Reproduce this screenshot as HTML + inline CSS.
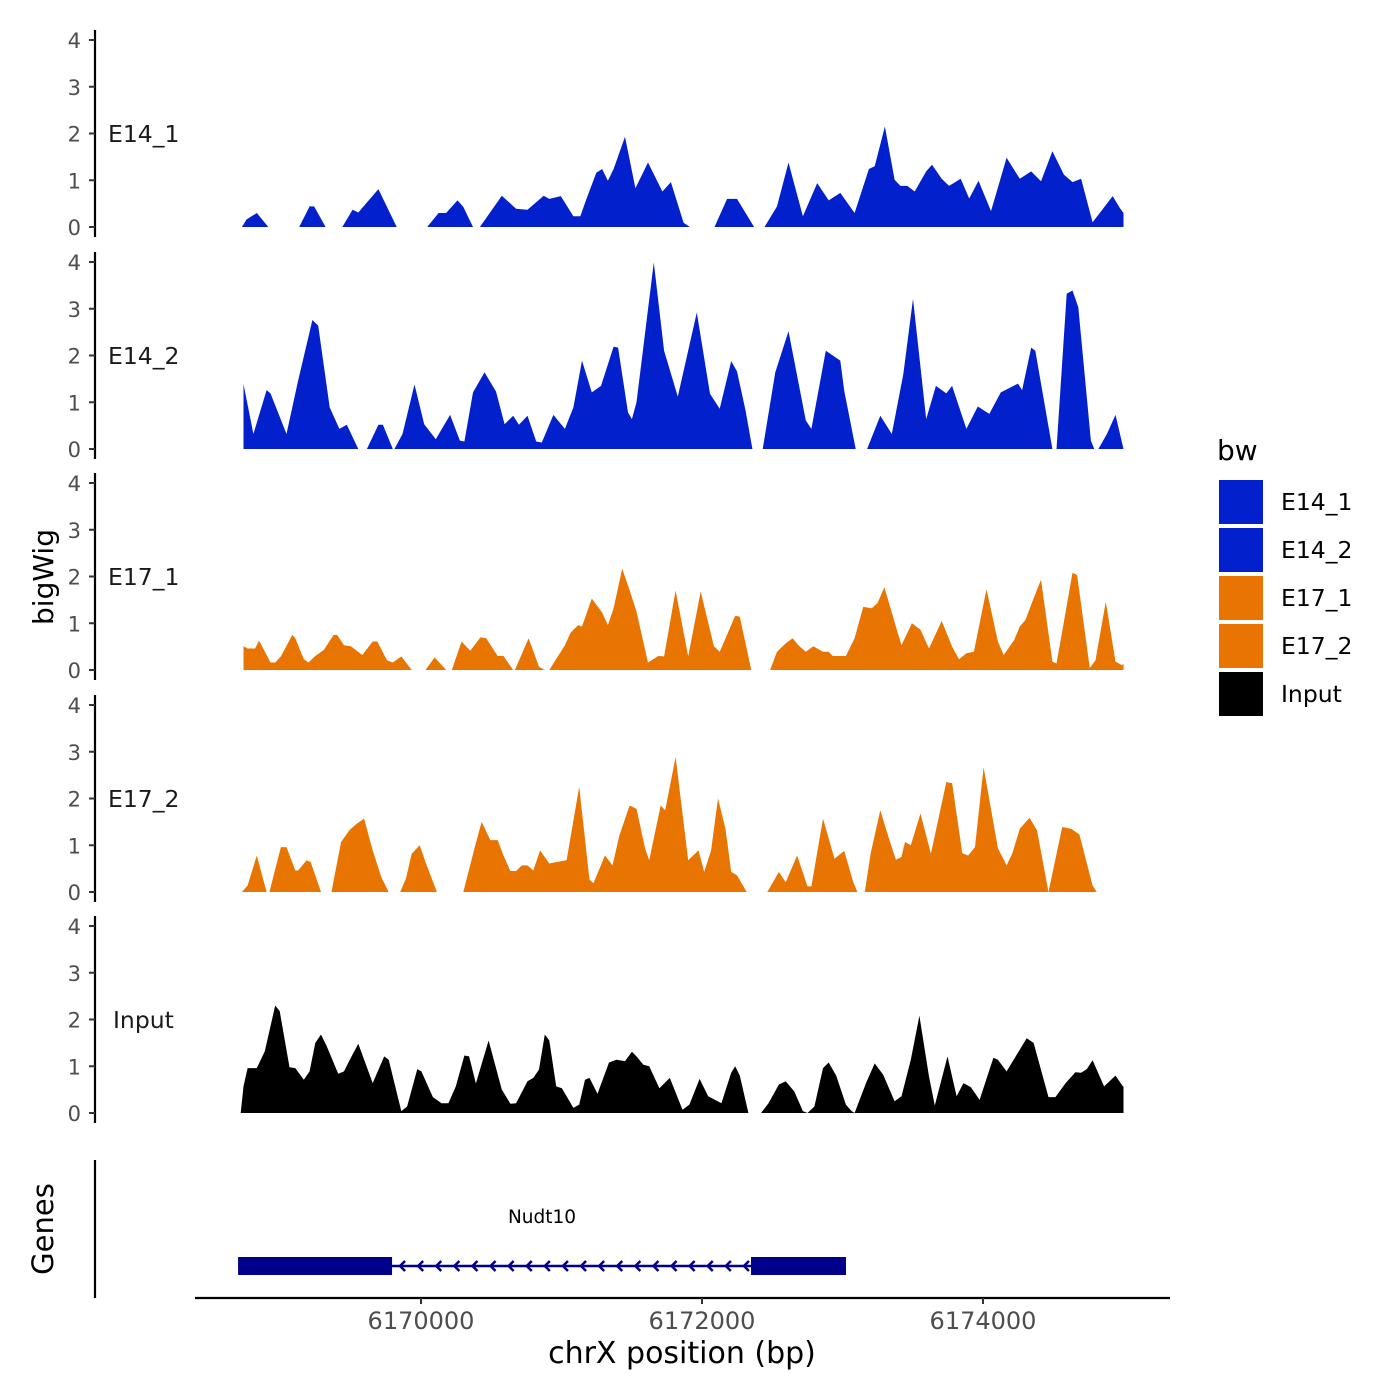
<!DOCTYPE html>
<html><head><meta charset="utf-8"><style>
html,body{margin:0;padding:0;background:#fff;}
svg{display:block;font-family:"DejaVu Sans","Liberation Sans",sans-serif;}
</style></head><body>
<svg id="chart" width="1400" height="1400" viewBox="0 0 1400 1400"></svg>
<script>
const trackNames = ["E14_1","E14_2","E17_1","E17_2","Input"];
const trackColors = ["#0320cd","#0320cd","#e87502","#e87502","#000000"];
const yTicks = [0,1,2,3,4];
const xTicks = [6170000,6172000,6174000];

const e14_1_pos = [6168725,6168758,6168831,6168913,null,6169133,6169207,6169239,6169321,null,6169440,6169513,6169554,6169697,6169827,null,6170044,6170125,6170179,6170260,6170301,6170370,null,6170419,6170575,6170677,6170758,6170873,6170913,6170995,6171085,6171134,6171175,6171248,6171289,6171330,6171371,6171452,6171526,6171616,6171718,6171779,6171869,6171914,null,6172089,6172179,6172249,6172371,null,6172445,6172534,6172616,6172718,6172820,6172902,6172984,6173086,6173188,6173229,6173302,6173371,6173412,6173461,6173514,6173596,6173637,6173706,6173759,6173841,6173902,6173968,6174057,6174168,6174262,6174343,6174413,6174494,6174576,6174637,6174698,6174780,6174923,6174975,6175000];
const e14_1_val = [0,0.16,0.30,0,null,0,0.44,0.44,0,null,0,0.37,0.31,0.81,0,null,0,0.30,0.30,0.57,0.43,0,null,0,0.67,0.39,0.37,0.67,0.60,0.66,0.23,0.23,0.58,1.16,1.24,0.99,1.24,1.93,0.83,1.38,0.76,0.96,0.09,0,null,0,0.60,0.60,0,null,0,0.44,1.38,0.23,0.94,0.57,0.73,0.30,1.24,1.30,2.15,1.01,0.88,0.88,0.76,1.19,1.33,1.03,0.88,1.03,0.61,0.99,0.34,1.48,1.03,1.19,0.98,1.62,1.12,0.96,1.03,0.10,0.66,0.40,0.30];

const e14_2_pos = [6168737,6168807,6168901,6168929,6169043,6169125,6169227,6169268,6169350,6169419,6169472,6169554,null,6169615,6169697,6169729,6169799,null,6169811,6169868,6169954,6170023,6170105,6170207,6170277,6170309,6170370,6170452,6170534,6170595,6170656,6170697,6170758,6170820,6170860,6170942,6171024,6171085,6171146,6171216,6171281,6171371,6171403,6171473,6171501,6171534,6171657,6171730,6171828,6171963,6172057,6172126,6172208,6172249,6172310,6172359,null,6172432,6172522,6172616,6172739,6172779,6172881,6172984,6173012,6173094,null,6173175,6173269,6173351,6173433,6173502,6173596,6173665,6173739,6173780,6173882,6173963,6174045,6174127,6174249,6174278,6174343,6174372,6174494,null,6174523,6174596,6174637,6174678,6174768,6174792,null,6174821,6174882,6174943,6175000];
const e14_2_val = [1.39,0.32,1.26,1.19,0.32,1.46,2.76,2.64,0.89,0.43,0.52,0,null,0,0.52,0.52,0,null,0,0.32,1.38,0.53,0.21,0.73,0.18,0.16,1.21,1.64,1.23,0.53,0.71,0.52,0.71,0.16,0.14,0.73,0.43,0.89,1.89,1.21,1.35,2.19,2.17,0.78,0.64,1.00,3.99,2.10,1.12,2.92,1.18,0.86,1.88,1.66,0.82,0,null,0,1.64,2.52,0.61,0.43,2.10,1.89,1.25,0,null,0,0.71,0.32,1.60,3.21,0.64,1.35,1.19,1.35,0.43,0.91,0.75,1.21,1.40,1.26,2.17,2.10,0,null,0,3.32,3.39,3.03,0.18,0,null,0,0.32,0.73,0];

const e17_1_pos = [6168737,6168766,6168819,6168847,6168929,6168962,6169003,6169084,6169105,6169166,6169199,6169248,6169309,6169378,6169403,6169452,6169501,6169582,6169656,6169689,6169758,6169799,6169860,6169934,null,6170032,6170097,6170179,null,6170219,6170289,6170350,6170424,6170464,6170546,6170587,6170656,null,6170668,6170766,6170840,6170881,null,6170913,6171024,6171065,6171118,6171146,6171216,6171289,6171330,6171371,6171432,6171485,6171534,6171616,6171689,6171730,6171812,6171902,6171991,6172085,6172126,6172236,6172269,6172351,null,6172485,6172534,6172596,6172645,6172686,6172739,6172792,6172861,6172902,6172930,6173024,6173086,6173147,6173208,6173249,6173298,6173380,6173420,6173494,6173555,6173616,6173706,6173780,6173829,6173882,6173935,6174025,6174106,6174147,6174221,6174262,6174302,6174351,6174413,6174494,6174523,6174576,6174637,6174670,6174760,6174801,6174874,6174943,6174990,6175000];
const e17_1_val = [0.51,0.46,0.46,0.63,0.16,0.16,0.29,0.75,0.68,0.23,0.16,0.30,0.43,0.75,0.75,0.53,0.51,0.32,0.61,0.61,0.21,0.16,0.29,0,null,0,0.27,0,null,0,0.61,0.41,0.70,0.68,0.30,0.30,0,null,0,0.68,0.07,0,null,0,0.53,0.80,0.96,0.93,1.53,1.23,0.96,1.32,2.17,1.71,1.25,0.16,0.30,0.29,1.70,0.29,1.68,0.51,0.39,1.16,1.14,0,null,0,0.39,0.57,0.68,0.53,0.39,0.51,0.39,0.39,0.30,0.30,0.68,1.35,1.32,1.43,1.77,0.93,0.53,1.00,0.86,0.46,1.05,0.50,0.23,0.36,0.39,1.73,0.61,0.32,0.64,0.93,1.07,1.46,1.93,0.18,0.14,1.03,2.08,2.03,0.04,0.21,1.46,0.18,0.10,0.14];

const e17_2_pos = [6168725,6168766,6168831,6168901,null,6168921,6169003,6169043,6169105,6169125,6169186,6169215,6169288,null,6169362,6169431,6169493,6169542,6169595,6169656,6169717,6169770,null,6169852,6169893,6169934,6169991,6170032,6170113,null,6170301,6170383,6170432,6170493,6170546,6170587,6170636,6170677,6170718,6170758,6170799,6170848,6170913,6170962,6171036,6171126,6171199,6171228,6171309,6171363,6171412,6171485,6171534,6171595,6171624,6171706,6171738,6171812,6171902,6171975,6172016,6172065,6172114,6172167,6172208,6172249,6172318,null,6172465,6172547,6172596,6172677,6172751,6172779,6172861,6172943,6173012,6173077,6173106,null,6173159,6173200,6173269,6173331,6173380,6173420,6173445,6173486,6173555,6173629,6173739,6173780,6173853,6173894,6173943,6174004,6174106,6174168,6174208,6174262,6174331,6174384,6174466,6174564,6174629,6174686,6174780,6174809];
const e17_2_val = [0,0.14,0.78,0,null,0,0.96,0.96,0.46,0.46,0.68,0.64,0,null,0,1.07,1.33,1.46,1.57,0.89,0.32,0,null,0,0.29,0.82,1.00,0.64,0,null,0,0.96,1.50,1.11,1.11,0.78,0.45,0.45,0.57,0.57,0.46,0.89,0.61,0.64,0.68,2.25,0.26,0.19,0.78,0.57,1.21,1.85,1.78,0.93,0.68,1.85,1.75,2.89,0.68,0.89,0.43,0.89,2.00,1.35,0.43,0.36,0,null,0,0.43,0.21,0.78,0.12,0.12,1.57,0.71,0.88,0.21,0,null,0,0.82,1.75,1.14,0.69,0.75,1.07,1.00,1.68,0.82,2.35,2.33,0.83,0.78,0.96,2.67,0.94,0.57,0.82,1.35,1.59,1.32,0,1.39,1.35,1.23,0.14,0];

const input_pos = [6168717,6168737,6168766,6168831,6168888,6168962,6168994,6169064,6169105,6169166,6169207,6169248,6169288,6169329,6169411,6169452,6169493,6169554,6169656,6169738,6169770,6169860,6169901,6169974,6170003,6170085,6170146,6170195,6170248,6170309,6170342,6170391,6170481,6170575,6170636,6170677,6170758,6170799,6170840,6170881,6170913,6170962,6171003,6171085,6171126,6171167,6171199,6171256,6171338,6171391,6171452,6171501,6171534,6171583,6171624,6171697,6171771,6171861,6171910,6171983,6172044,6172138,6172208,6172236,6172269,6172330,null,6172420,6172473,6172547,6172596,6172657,6172718,6172751,6172800,6172861,6172902,6172955,6173024,6173065,6173086,6173167,6173229,6173290,6173371,6173420,6173486,6173547,6173616,6173657,6173747,6173812,6173861,6173914,6173976,6174074,6174106,6174168,6174311,6174360,6174466,6174515,6174588,6174658,6174698,6174739,6174780,6174862,6174943,6174996,6175000];
const input_val = [0,0.57,0.96,0.96,1.32,2.30,2.18,0.98,0.96,0.71,0.89,1.50,1.68,1.43,0.84,0.89,1.14,1.48,0.64,1.21,1.14,0.04,0.14,0.94,0.89,0.34,0.21,0.21,0.57,1.23,1.21,0.63,1.55,0.50,0.20,0.21,0.68,0.75,0.93,1.68,1.55,0.57,0.53,0.11,0.18,0.71,0.75,0.41,1.08,1.14,1.11,1.31,1.21,1.03,1.00,0.53,0.75,0.07,0.18,0.73,0.36,0.21,0.86,1.00,0.80,0,null,0,0.21,0.61,0.68,0.46,0.04,0,0.14,0.96,1.08,0.80,0.18,0.04,0,0.64,1.06,0.82,0.25,0.36,1.14,2.08,0.78,0.16,1.21,0.36,0.64,0.55,0.28,1.18,1.14,0.89,1.60,1.50,0.34,0.34,0.64,0.87,0.86,0.94,1.13,0.57,0.80,0.57,0.57];

const geneStart = 6168698, geneEnd = 6173025;
const exonStarts = [6168698, 6172349];
const exonEnds = [6169794, 6173025];
const geneName = "Nudt10";

const positions = [e14_1_pos,e14_2_pos,e17_1_pos,e17_2_pos,input_pos];
const values = [e14_1_val,e14_2_val,e17_1_val,e17_2_val,input_val];

const NS = "http://www.w3.org/2000/svg";
const svg = document.getElementById("chart");
function mk(tag, attrs, parent){const e=document.createElementNS(NS,tag);for(const k in attrs)e.setAttribute(k,attrs[k]);(parent||svg).appendChild(e);return e;}
function xScale(bp){return 421 + (bp-6170000)*0.1405;}
const zeroY = [227,449,670,892,1113];
const unitPx = 46.75;
function yScale(i,v){return zeroY[i]-v*unitPx;}

for(let i=0;i<5;i++){
  const g = mk("g",{});
  
  
  const ax = mk("line",{x1:95,x2:95,y1:zeroY[i]-197,y2:zeroY[i]+10,stroke:"#000","stroke-width":2.2},g);
  
  
  yTicks.forEach(t=>{
    const y=yScale(i,t);
    const tk=mk("line",{x1:89,x2:95,y1:y,y2:y,stroke:"#333","stroke-width":2},g);
    
    
    const tl=mk("text",{x:81,y:y+8,"text-anchor":"end","font-size":"21",fill:"#4d4d4d"},g);
    tl.textContent=t;
    
    
  });
  const lab=mk("text",{x:trackNames[i]==="Input"?113:108,y:zeroY[i]-85,"font-size":"23.5",fill:"#1a1a1a"},g);
  lab.textContent=trackNames[i];
  
  
  const P=positions[i], V=values[i];
  let seg=[];
  const flush=()=>{
    if(seg.length<2){seg=[];return;}
    let d="M"+xScale(seg[0][0]).toFixed(1)+","+zeroY[i];
    seg.forEach(p=>{d+="L"+xScale(p[0]).toFixed(1)+","+yScale(i,p[1]).toFixed(1);});
    d+="L"+xScale(seg[seg.length-1][0]).toFixed(1)+","+zeroY[i]+"Z";
    const a=mk("path",{d:d,fill:trackColors[i]},g);
    
    
    seg=[];
  };
  for(let k=0;k<P.length;k++){
    if(P[k]===null||V[k]===null){flush();continue;}
    seg.push([P[k],V[k]]);
  }
  flush();
}

const yt=mk("text",{x:0,y:0,transform:"translate(53,577) rotate(-90)","text-anchor":"middle","font-size":"28",fill:"#000"});
yt.textContent="bigWig";



const gl=mk("line",{x1:95,x2:95,y1:1160,y2:1298,stroke:"#000","stroke-width":2.2});


const gt=mk("text",{x:0,y:0,transform:"translate(53,1229) rotate(-90)","text-anchor":"middle","font-size":"29",fill:"#000"});
gt.textContent="Genes";


const gg=mk("g",{});


const il=mk("line",{x1:xScale(geneStart),x2:xScale(geneEnd),y1:1266,y2:1266,stroke:"#00008b","stroke-width":2.5},gg);


for(let x=xScale(exonEnds[0])+8; x<xScale(exonStarts[1])-4; x+=18.1){
  const c=mk("polyline",{points:(x+5)+",1261 "+x+",1266 "+(x+5)+",1271",fill:"none",stroke:"#00008b","stroke-width":2.5},gg);
  
  
}
for(let k=0;k<exonStarts.length;k++){
  const r=mk("rect",{x:xScale(exonStarts[k]),y:1257,width:xScale(exonEnds[k])-xScale(exonStarts[k]),height:18,fill:"#00008b"},gg);
  
  
}
const gn=mk("text",{x:542,y:1223,"text-anchor":"middle","font-size":"18.5",fill:"#000"},gg);
gn.textContent=geneName;



const xa=mk("line",{x1:195,x2:1170,y1:1298,y2:1298,stroke:"#000","stroke-width":2.2});


xTicks.forEach(t=>{
  const x=xScale(t);
  const tk=mk("line",{x1:x,x2:x,y1:1298,y2:1304,stroke:"#333","stroke-width":2});
  
  
  const tl=mk("text",{x:x,y:1329,"text-anchor":"middle","font-size":"24",fill:"#4d4d4d"});
  tl.textContent=t;
  
  
});
const xt=mk("text",{x:682,y:1363,"text-anchor":"middle","font-size":"30",fill:"#000"});
xt.textContent="chrX position (bp)";



const lg=mk("g",{});


const lt=mk("text",{x:1217,y:460,"font-size":"28",fill:"#000"},lg);
lt.textContent="bw";


trackNames.forEach((n,k)=>{
  const y=480+k*48;
  const e=mk("g",{},lg);
  
  
  const r=mk("rect",{x:1219,y:y,width:44,height:44,fill:trackColors[k]},e);
  
  
  const t=mk("text",{x:1281,y:y+30,"font-size":"23.5",fill:"#000"},e);
  t.textContent=n;
  
  
});
</script>
</body></html>
